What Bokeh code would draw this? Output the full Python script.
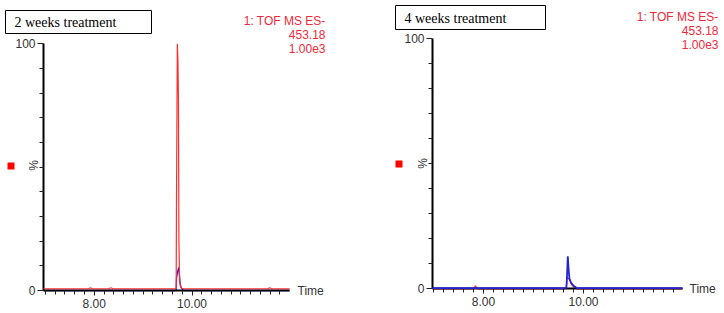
import math
from bokeh.plotting import figure
from bokeh.layouts import row
from bokeh.models import Range1d, FixedTicker, NumeralTickFormatter, Label, BoxAnnotation
from bokeh.embed import file_html
from bokeh.resources import INLINE

# ---------------- data ----------------
panel_titles = ["2 weeks treatment", "4 weeks treatment"]
trace_header = ["1: TOF MS ES-", "453.18", "1.00e3"]
x_major_ticks = [8.0, 10.0]
x_minor_ticks = [7.0, 7.2, 7.4, 7.6, 7.8, 8.2, 8.4, 8.6, 8.8, 9.0, 9.2, 9.4, 9.6, 9.8,
                 10.2, 10.4, 10.6, 10.8, 11.0, 11.2, 11.4, 11.6, 11.8]
y_major_ticks = [0, 100]
y_minor_ticks = [10, 20, 30, 40, 50, 60, 70, 80, 90]

# 2 weeks treatment
time_2w_red = [6.96, 7.40, 7.88, 7.92, 7.96, 8.30, 8.34, 8.38, 8.90, 9.30, 9.65, 9.676, 9.682,
               9.700, 9.712, 9.722, 9.732, 9.745, 9.765, 9.79, 9.83, 10.3, 10.8, 11.3,
               11.55, 11.59, 11.63, 12.0]
int_2w_red = [0.7, 0.7, 0.7, 1.1, 0.7, 0.7, 1.1, 0.7, 0.7, 0.7, 0.7, 0.8, 34,
              100, 93, 78, 21, 4, 1.5, 0.9, 0.7, 0.7, 0.7, 0.7,
              0.7, 1.1, 0.7, 0.7]
time_2w_blue = [6.96, 8.5, 9.65, 9.676, 9.683, 9.71, 9.73, 9.745, 9.76, 9.78, 9.81, 9.85, 12.0]
int_2w_blue = [0.0, 0.0, 0.0, 0.2, 5, 8, 9.4, 6, 2.5, 1.2, 0.3, 0.0, 0.0]

# 4 weeks treatment
time_4w_red = [6.98, 7.80, 7.84, 7.88, 8.6, 9.62, 9.658, 9.664, 9.69, 9.72, 9.75, 9.80,
               9.86, 10.6, 11.98]
int_4w_red = [0.0, 0.0, 1.2, 0.0, 0.0, 0.0, 0.2, 4.5, 4.2, 3.8, 2.0, 0.8,
              0.0, 0.0, 0.0]
time_4w_blue = [6.98, 8.5, 9.62, 9.655, 9.664, 9.686, 9.705, 9.72, 9.75, 9.80, 9.86, 9.90,
                10.8, 11.98]
int_4w_blue = [0.3, 0.3, 0.3, 0.4, 2, 13, 7, 4, 2.5, 1.2, 0.4, 0.3,
               0.3, 0.3]

RED = "#ff2e2e"
RED_TXT = "#f0283a"
BLUE = "#2424d6"
TXT = "#333333"

FIG_W, FIG_H = 362, 313


def make_panel(idx, off, px8, ppm, py0, ppv, xbounds,
               t_red, v_red, t_blue, v_blue, red_on_top,
               box, title_xy, hdr_right, hdr_ys, pct_xy, sq, time_xy):
    # calibration: reference pixel (page) -> data
    def td(rx):
        return 8.0 + (rx - px8) / ppm

    def vd(ry):
        return (py0 - ry) / ppv * 100.0

    p = figure(width=FIG_W, height=FIG_H, output_backend="svg", toolbar_location=None,
               x_range=Range1d(td(off), td(off + FIG_W)),
               y_range=Range1d(vd(FIG_H), vd(0)),
               min_border=0, min_border_left=0, min_border_right=0,
               min_border_top=0, min_border_bottom=0)
    p.outline_line_color = None
    p.grid.visible = False
    p.background_fill_color = "white"
    p.border_fill_color = "white"

    # axes (kept on their sides, drawn at fixed data locations)
    xa = p.xaxis[0]
    xa.fixed_location = 0
    xa.bounds = xbounds
    xa.ticker = FixedTicker(ticks=x_major_ticks, minor_ticks=x_minor_ticks)
    xa.formatter = NumeralTickFormatter(format="0.00")
    xa.axis_line_width = 2
    xa.axis_line_color = "black"
    xa.major_tick_out = 5
    xa.major_tick_in = 0
    xa.minor_tick_out = 4
    xa.minor_tick_in = 0
    xa.major_tick_line_color = "#222222"
    xa.minor_tick_line_color = "#222222"
    xa.major_label_standoff = 3
    xa.major_label_text_font = "Liberation Sans"
    xa.major_label_text_font_size = "12px"
    xa.major_label_text_color = TXT

    ya = p.yaxis[0]
    ya.fixed_location = xbounds[0]
    ya.bounds = (0, 100)
    ya.ticker = FixedTicker(ticks=y_major_ticks, minor_ticks=y_minor_ticks)
    ya.axis_line_width = 2
    ya.axis_line_color = "black"
    ya.major_tick_out = 6
    ya.major_tick_in = 0
    ya.minor_tick_out = 4
    ya.minor_tick_in = 0
    ya.major_tick_line_color = "#222222"
    ya.minor_tick_line_color = "#222222"
    ya.major_label_standoff = 2
    ya.major_label_text_font = "Liberation Sans"
    ya.major_label_text_font_size = "12px"
    ya.major_label_text_color = TXT

    # traces
    if red_on_top:
        p.line(t_blue, v_blue, line_color=BLUE, line_width=1.3, level="glyph")
        p.line(t_red, v_red, line_color=RED, line_width=1.2, level="overlay")
    else:
        p.line(t_red, v_red, line_color=RED, line_width=1.2, level="glyph")
        p.line(t_blue, v_blue, line_color=BLUE, line_width=1.8, level="overlay")

    # title box
    bl, bt, br, bb = box
    p.add_layout(BoxAnnotation(left=td(bl), right=td(br), top=vd(bt), bottom=vd(bb),
                               fill_color="white", fill_alpha=1.0,
                               line_color="black", line_width=1, line_alpha=1.0))
    p.add_layout(Label(x=td(title_xy[0]), y=vd(title_xy[1]), text=panel_titles[idx],
                       text_font="Liberation Serif", text_font_size="14px",
                       text_color="black", text_align="left", text_baseline="middle"))

    # header in red
    for txt, hy in zip(trace_header, hdr_ys):
        p.add_layout(Label(x=td(hdr_right), y=vd(hy), text=txt,
                           text_font="Liberation Sans", text_font_size="12px",
                           text_color=RED_TXT, text_align="right", text_baseline="middle"))

    # % label
    p.add_layout(Label(x=td(pct_xy[0]), y=vd(pct_xy[1]), text="%", angle=math.pi / 2,
                       text_font="Liberation Sans", text_font_size="12px",
                       text_color=TXT, text_align="center", text_baseline="middle"))

    # red square
    sl, st, sr, sb = sq
    p.add_layout(BoxAnnotation(left=td(sl), right=td(sr), top=vd(st), bottom=vd(sb),
                               fill_color="#ff0000", fill_alpha=1.0, line_color=None))

    # Time label
    p.add_layout(Label(x=td(time_xy[0]), y=vd(time_xy[1]), text="Time",
                       text_font="Liberation Sans", text_font_size="12px",
                       text_color=TXT, text_align="left", text_baseline="middle"))
    return p


p1 = make_panel(0, 0, 93.8, 48.85, 290.0, 246.7, (6.96, 12.0),
                time_2w_red, int_2w_red, time_2w_blue, int_2w_blue, True,
                box=(5, 10, 151, 33), title_xy=(14, 22), hdr_right=325,
                hdr_ys=(20.5, 34, 48), pct_xy=(33, 165), sq=(7, 162, 14, 169),
                time_xy=(297, 290))

p2 = make_panel(1, 362, 483.0, 50.0, 288.3, 250.0, (6.98, 11.98),
                time_4w_red, int_4w_red, time_4w_blue, int_4w_blue, False,
                box=(395, 5, 545, 29), title_xy=(404, 18), hdr_right=718,
                hdr_ys=(16.5, 30, 43.5), pct_xy=(422, 163), sq=(395, 160, 402, 167),
                time_xy=(689, 288))

layout = row(p1, p2)
open("out.html", "w").write(file_html(layout, INLINE))
